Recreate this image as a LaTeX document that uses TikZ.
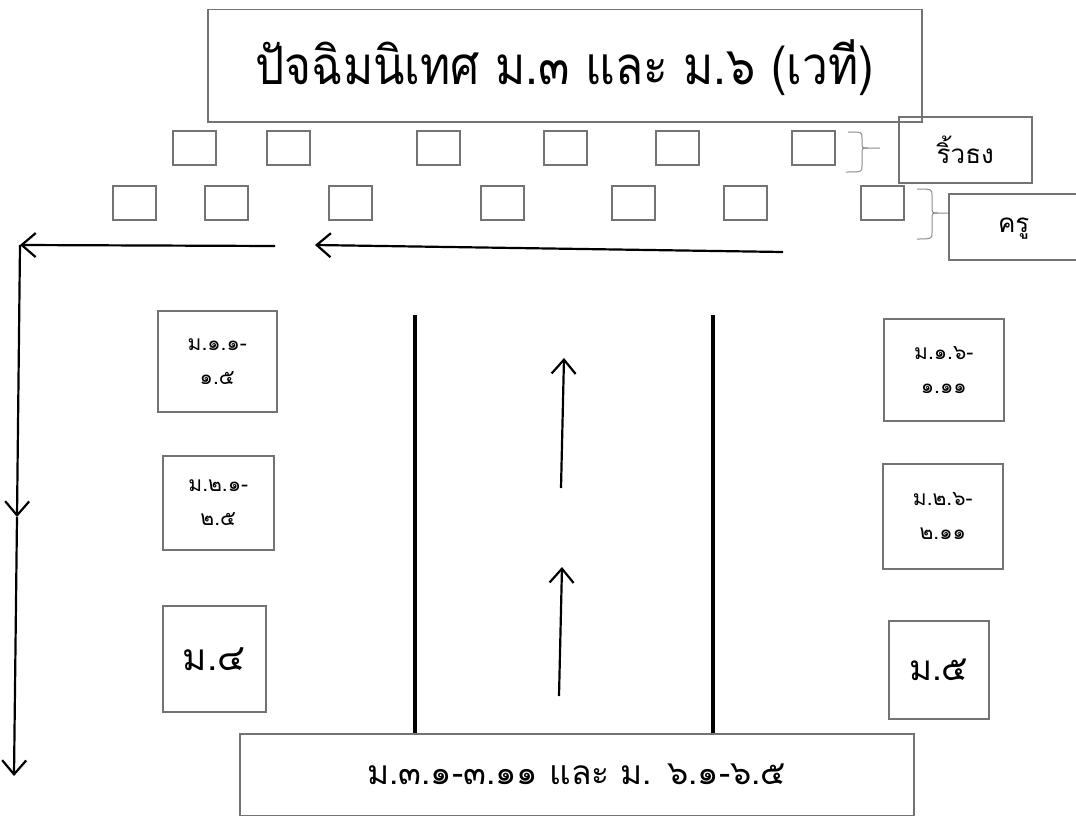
\documentclass[tikz,border=0pt]{standalone}
\usepackage{fontspec}
\newfontfamily\thaifont[Script=Thai]{Loma}
\usetikzlibrary{arrows.meta}
\begin{document}
\begin{tikzpicture}[x=1pt,y=-1pt,
  box/.style={draw=black!55,line width=1.5pt,inner sep=0pt,anchor=north west,font=\thaifont},
  seat/.style={draw=black!55,line width=1.5pt,minimum width=43pt,minimum height=34pt,inner sep=0pt,anchor=north west},
  brc/.style={draw=black!45,line width=1pt},
  flow/.style={draw=black,line width=2.2pt,-{Straight Barb[length=14pt,width=24pt,line width=2.2pt]}},
  wall/.style={draw=black,line width=3.6pt}]
\useasboundingbox (0,0) rectangle (1076,816);
% title
\node[box,minimum width=714pt,minimum height=112pt] (title) at (207,9) {};
\node[font=\thaifont\fontsize{46}{50}\selectfont] (titletext) at ([yshift=-2pt]title.center) {\scalebox{1}[1.15]{ปัจฉิมนิเทศ ม.๓ และ ม.๖ (เวที)}};
% row 1 seats
\foreach \x/\n in {172/a1,266/a2,416/a3,543/a4,655/a5,791/a6}
  \node[seat] (\n) at (\x,130) {};
% row 2 seats
\foreach \x/\n in {112/b1,204/b2,328/b3,480/b4,611/b5,723/b6,860/b7}
  \node[seat] (\n) at (\x,185) {};
% labels
\node[box,minimum width=133pt,minimum height=66pt] (flag) at (898,116) {};
\node[font=\thaifont\fontsize{26}{30}\selectfont] at (flag.center) {ริ้วธง};
\node[box,minimum width=140pt,minimum height=66pt] (teach) at (948,193) {};
\node[font=\thaifont\fontsize{26}{30}\selectfont] at ([xshift=-5pt,yshift=-2pt]teach.center) {ครู};
% braces
\draw[brc] (848,132) .. controls (862,132) .. (862,138) -- (862,143) .. controls (862,148) .. (868,148) -- (880,148);
\draw[brc] (868,148) .. controls (862,148) .. (862,154) -- (862,166) .. controls (862,172) .. (846,172);
\draw[brc] (917,189) .. controls (932,189) .. (932,196) -- (932,206) .. controls (932,213) .. (938,213) -- (948,213);
\draw[brc] (938,213) .. controls (932,213) .. (932,220) -- (932,232) .. controls (932,239) .. (917,239);
% left group boxes
\node[box,minimum width=119pt,minimum height=101pt] (l1) at (157,310) {};
\node[font=\thaifont\fontsize{21}{34}\selectfont,align=center] at (l1.center) {ม.๑.๑-\\๑.๕};
\node[box,minimum width=111pt,minimum height=94pt] (l2) at (162,455) {};
\node[font=\thaifont\fontsize{21}{34}\selectfont,align=center] at (l2.center) {ม.๒.๑-\\๒.๕};
\node[box,minimum width=103pt,minimum height=106pt] (l3) at (162,605) {};
\node[font=\thaifont\fontsize{37}{40}\selectfont] at (l3.center) {ม.๔};
% right group boxes
\node[box,minimum width=120pt,minimum height=102pt] (r1) at (883,318) {};
\node[font=\thaifont\fontsize{21}{34}\selectfont,align=center] at (r1.center) {ม.๑.๖-\\๑.๑๑};
\node[box,minimum width=120pt,minimum height=105pt] (r2) at (882,463) {};
\node[font=\thaifont\fontsize{21}{34}\selectfont,align=center] at (r2.center) {ม.๒.๖-\\๒.๑๑};
\node[box,minimum width=100pt,minimum height=98pt] (r3) at (888,620) {};
\node[font=\thaifont\fontsize{35}{40}\selectfont] at (r3.center) {ม.๕};
% bottom box
\node[box,minimum width=674pt,minimum height=82pt] (bottom) at (239,733) {};
\node[font=\thaifont\fontsize{33.5}{38}\selectfont] at (bottom.center) {ม.๓.๑-๓.๑๑ และ ม. ๖.๑-๖.๕};
% walls
\coordinate (w1) at (415,315);
\coordinate (w2) at (713,315);
\draw[wall] (w1) -- (w1 |- bottom.north);
\draw[wall] (w2) -- (w2 |- bottom.north);
% arrows
\coordinate (h1s) at (275,246);
\coordinate (corner) at (20,245);
\coordinate (mid) at (17,517);
\coordinate (vend) at (14,776);
\draw[flow] (h1s) -- (corner);
\draw[flow] (corner) -- (mid);
\draw[draw=black,line width=2.2pt] (mid) -- ([yshift=-2pt]mid);
\draw[flow] (mid) -- (vend);
\coordinate (h2s) at (783,252);
\coordinate (h2e) at (315,245);
\draw[flow] (h2s) -- (h2e);
\coordinate (u1s) at (561,488);
\coordinate (u1e) at (564,358);
\draw[flow] (u1s) -- (u1e);
\coordinate (u2s) at (559,696);
\coordinate (u2e) at (562,567);
\draw[flow] (u2s) -- (u2e);
\end{tikzpicture}
\end{document}
